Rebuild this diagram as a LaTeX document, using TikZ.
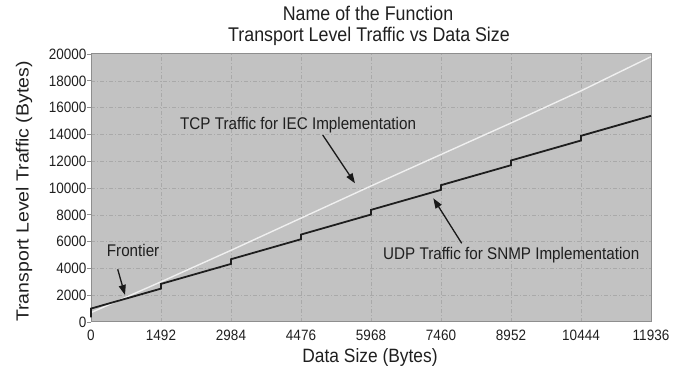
\documentclass[tikz,border=0pt]{standalone}
\usepackage{fontspec}
\usepackage{graphicx}
\setmainfont[FakeStretch=0.9]{Liberation Sans}
\newfontfamily\uprightlabel{Liberation Sans}
\usetikzlibrary{arrows.meta}
\definecolor{plotbg}{HTML}{C2C2C2}
\definecolor{gridgray}{HTML}{A9A9A9}
\definecolor{framegray}{HTML}{8E8E8E}
\definecolor{udpcol}{HTML}{1E1E1E}
\definecolor{tcpcol}{HTML}{F0F0F0}
\begin{document}
\begin{tikzpicture}[x=1pt,y=1pt,
  gridline/.style={gridgray, line width=0.5pt, dash pattern=on 4pt off 2pt on 1pt off 2pt},
  tickmark/.style={framegray, line width=0.7pt},
  frameline/.style={framegray, line width=1pt},
  ticklabel/.style={font=\fontsize{15}{15}\selectfont, inner sep=0pt, text=black!88},
  axislabel/.style={font=\fontsize{19.3}{19.3}\selectfont, inner sep=0pt, text=black!88},
  titletext/.style={font=\fontsize{19.8}{19.8}\selectfont, inner sep=0pt, text=black!88},
  note/.style={font=\fontsize{16.9}{16.9}\selectfont, inner sep=0pt, text=black!88},
  pointer/.style={-{Triangle[length=10pt,width=7pt]}, line width=1.3pt, black!90},
  udpline/.style={udpcol, line width=1.8pt, line join=miter},
  tcpline/.style={tcpcol, line width=1.4pt, line join=round},
]
\useasboundingbox (0,0) rectangle (685,371);

% plot area
\fill[plotbg] (91,49) rectangle (651,317);

% data frame: x in kilobytes of data, y in kilobytes of traffic
\begin{scope}[shift={(91,49)}, x=46.917pt, y=13.4pt]
  \foreach \k in {1,...,7} \draw[gridline] (\k*1.492,0) -- (\k*1.492,20);
  \foreach \v in {2,4,...,18} \draw[gridline] (0,\v) -- (11.936,\v);
  \foreach \v in {0,2,...,20} \draw[tickmark] (0,\v) -- ++(-4pt,0);
  \draw[frameline] (0,0) rectangle (11.936,20);

  % x tick labels
  \foreach \k/\lab in {0/0,1/1492,2/2984,3/4476,4/5968,5/7460,6/8952,7/10444,8/11936}
    \node[ticklabel, anchor=base, yshift=-18.7pt] (xt\k) at (\k*1.492,0) {\lab};
  % y tick labels
  \foreach \v/\lab in {0/0,2/2000,4/4000,6/6000,8/8000,10/10000,12/12000,14/14000,16/16000,18/18000,20/20000}
    \node[ticklabel, anchor=base east, xshift=-4.5pt, yshift=-5.4pt] (yt\v) at (0,\v) {\lab};

  % TCP traffic for IEC
  \draw[tcpline] (0,0.7) -- (1.492,3.0) -- (2.984,5.35) -- (4.476,7.75) -- (5.968,10.15)
    -- (7.46,12.5) -- (8.952,14.85) -- (10.444,17.25) -- (11.936,19.8);

  % UDP traffic for SNMP
  \draw[udpline] (0,0.35) -- (0,1.0) -- (1.492,2.492) -- (1.492,2.842) -- (2.984,4.334)
    -- (2.984,4.684) -- (4.476,6.176) -- (4.476,6.526) -- (5.968,8.018) -- (5.968,8.368)
    -- (7.46,9.86) -- (7.46,10.21) -- (8.952,11.702) -- (8.952,12.052) -- (10.444,13.544)
    -- (10.444,13.894) -- (11.936,15.386);
\end{scope}

% titles
\node[titletext, anchor=base] (title1) at (368,350.5) {Name of the Function};
\node[titletext, anchor=base] (title2) at (369,329) {Transport Level Traffic vs Data Size};

% axis labels
\node[axislabel, anchor=base] (xlabel) at (370,8) {Data Size (Bytes)};
\node[rotate=90, inner sep=0pt, text=black!88] (ylabel) at (24,179.5)
  {\uprightlabel\fontsize{19.5}{19.5}\selectfont\scalebox{1}[0.9]{Transport Level Traffic (Bytes)}};

% annotations
\node[note, anchor=base west] (tcpnote) at (180,241) {TCP Traffic for IEC Implementation};
\coordinate (tcptail) at (322.7,236);
\coordinate (tcptip) at (355,187.7);
\draw[pointer] (tcptail) -- (tcptip);

\node[note, anchor=base west] (udpnote) at (383,111.7) {UDP Traffic for SNMP Implementation};
\coordinate (udptail) at (461.7,127.7);
\coordinate (udptip) at (433.3,172.7);
\draw[pointer] (udptail) -- (udptip);

\node[note, anchor=base west] (frontnote) at (106.7,114.3) {Frontier};
\coordinate (fronttail) at (117.7,101.7);
\coordinate (fronttip) at (125,76);
\draw[pointer] (fronttail) -- (fronttip);
\end{tikzpicture}
\end{document}
